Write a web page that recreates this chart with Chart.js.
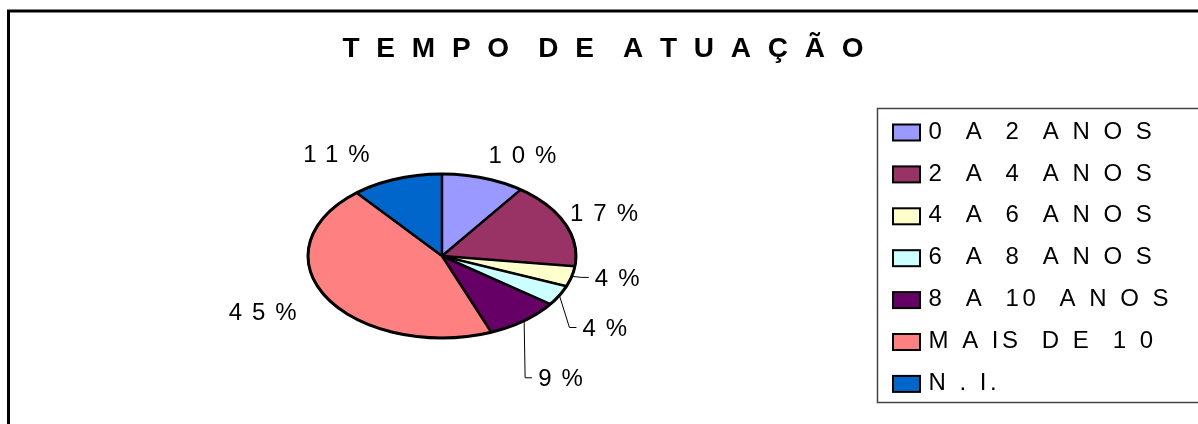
<!DOCTYPE html>
<html>
<head>
<meta charset="utf-8">
<script src="https://cdn.jsdelivr.net/npm/chart.js@4/dist/chart.umd.min.js"></script>
<style>
  html, body { margin: 0; padding: 0; background: #fff; }
  canvas { display: block; }
</style>
</head>
<body>
<canvas id="chart" width="1198" height="424"></canvas>
<script>
// data
const chartTitle = "T E M P O  D E  A T U A Ç Ã O";
const categories = [
  "0  A  2  A N O S",
  "2  A  4  A N O S",
  "4  A  6  A N O S",
  "6  A  8  A N O S",
  "8  A  10  A N O S",
  "M A IS  D E  1 0",
  "N . I."
];
const shares = [10, 17, 4, 4, 9, 45, 11];

// styles
const sliceColors = ["#9999FF", "#993366", "#FFFFCC", "#CCFFFF", "#660066", "#FF8080", "#0066CC"];
const FONT = '"Liberation Sans", Arial, sans-serif';
const squash = 82 / 134; // pie drawn as a flat ellipse
// label offset from the slice edge: [dx, dy to text middle]
const labelNudge = [[5, -24], [5, -11], [23, 1], [23, 32], [14, 57], [-30, 14], [-27, -25]];
const labelLeader = [false, false, true, true, true, false, false];

function spacedText(ctx, text, x, y, spacing, align) {
  ctx.letterSpacing = "0px";
  const w = ctx.measureText(text).width + spacing * (text.length - 1);
  ctx.letterSpacing = spacing + "px";
  ctx.textAlign = "left";
  let sx = x;
  if (align === "right") sx = x - w;
  else if (align === "center") sx = x - w / 2;
  ctx.fillText(text, sx, y);
  ctx.letterSpacing = "0px";
  return w;
}

const ellipsePie = {
  id: "ellipsePie",
  beforeDraw(chart) {
    const ctx = chart.ctx;
    ctx.save();
    ctx.fillStyle = "#fff";
    ctx.fillRect(0, 0, chart.width, chart.height);
    ctx.restore();
  },
  beforeDatasetsDraw(chart) {
    const ctx = chart.ctx;
    const arc = chart.getDatasetMeta(0).data[0];
    ctx.save();
    ctx.translate(0, arc.y);
    ctx.scale(1, squash);
    ctx.translate(0, -arc.y);
  },
  afterDatasetsDraw(chart) {
    const ctx = chart.ctx;
    ctx.restore();
    // even outline on top of the squashed slices
    const arcs = chart.getDatasetMeta(0).data;
    const { x, y, outerRadius } = arcs[0].getProps(["x", "y", "outerRadius"], true);
    ctx.save();
    ctx.strokeStyle = "#000";
    ctx.lineWidth = 2.5;
    ctx.lineJoin = "round";
    arcs.forEach(a => {
      const s = a.startAngle;
      ctx.beginPath();
      ctx.moveTo(x, y);
      ctx.lineTo(x + outerRadius * Math.cos(s), y + outerRadius * squash * Math.sin(s));
      ctx.stroke();
    });
    ctx.lineWidth = 3;
    ctx.beginPath();
    ctx.ellipse(x, y, outerRadius, outerRadius * squash, 0, 0, Math.PI * 2);
    ctx.stroke();
    ctx.restore();
  },
  afterDraw(chart) {
    const ctx = chart.ctx;
    ctx.save();
    ctx.fillStyle = "#000";
    ctx.strokeStyle = "#000";

    // outer frame
    ctx.lineWidth = 3;
    ctx.beginPath();
    ctx.moveTo(8.5, chart.height);
    ctx.lineTo(8.5, 11);
    ctx.lineTo(chart.width, 11);
    ctx.stroke();

    // title
    ctx.font = "bold 28px " + FONT;
    spacedText(ctx, chartTitle, 603, 57, 4.5, "center");

    // data labels
    const arcs = chart.getDatasetMeta(0).data;
    ctx.font = "24px " + FONT;
    ctx.lineWidth = 1;
    arcs.forEach((a, i) => {
      const mid = (a.startAngle + a.endAngle) / 2;
      const ex = a.x + a.outerRadius * Math.cos(mid);
      const ey = a.y + a.outerRadius * squash * Math.sin(mid);
      const right = Math.cos(mid) >= 0;
      const tx = ex + labelNudge[i][0];
      const ty = ey + labelNudge[i][1];
      if (labelLeader[i]) {
        ctx.beginPath();
        ctx.moveTo(ex, ey);
        ctx.lineTo(tx - 13, ty);
        ctx.lineTo(tx - 6, ty);
        ctx.stroke();
      }
      const txt = chart.data.datasets[0].data[i] + "%";
      spacedText(ctx, txt, tx, ty + 8.6, 10, right ? "left" : "right");
    });

    // legend
    const lx = 877.5, ly = 108.5, lb = 402.5;
    ctx.strokeStyle = "#444";
    ctx.lineWidth = 1.5;
    ctx.beginPath();
    ctx.moveTo(chart.width, ly);
    ctx.lineTo(lx, ly);
    ctx.lineTo(lx, lb);
    ctx.lineTo(chart.width, lb);
    ctx.stroke();
    ctx.font = "24px " + FONT;
    const colors = chart.data.datasets[0].backgroundColor;
    chart.data.labels.forEach((lab, i) => {
      const cy = 130 + 41.9 * i;
      ctx.fillStyle = colors[i];
      ctx.fillRect(893, cy - 5.5, 27, 16);
      ctx.strokeStyle = "#000";
      ctx.lineWidth = 2;
      ctx.strokeRect(893, cy - 5.5, 27, 16);
      ctx.fillStyle = "#000";
      spacedText(ctx, lab, 928.5, cy + 8.6, 3.5, "left");
    });
    ctx.restore();
  }
};

new Chart(document.getElementById("chart"), {
  type: "pie",
  data: {
    labels: categories,
    datasets: [{
      data: shares,
      backgroundColor: sliceColors,
      borderColor: "#000",
      borderWidth: 2
    }]
  },
  options: {
    responsive: false,
    animation: false,
    events: [],
    layout: { padding: { left: 307, right: 621, top: 121, bottom: 33 } },
    plugins: {
      legend: { display: false },
      tooltip: { enabled: false },
      title: { display: false }
    }
  },
  plugins: [ellipsePie]
});
</script>
</body>
</html>
